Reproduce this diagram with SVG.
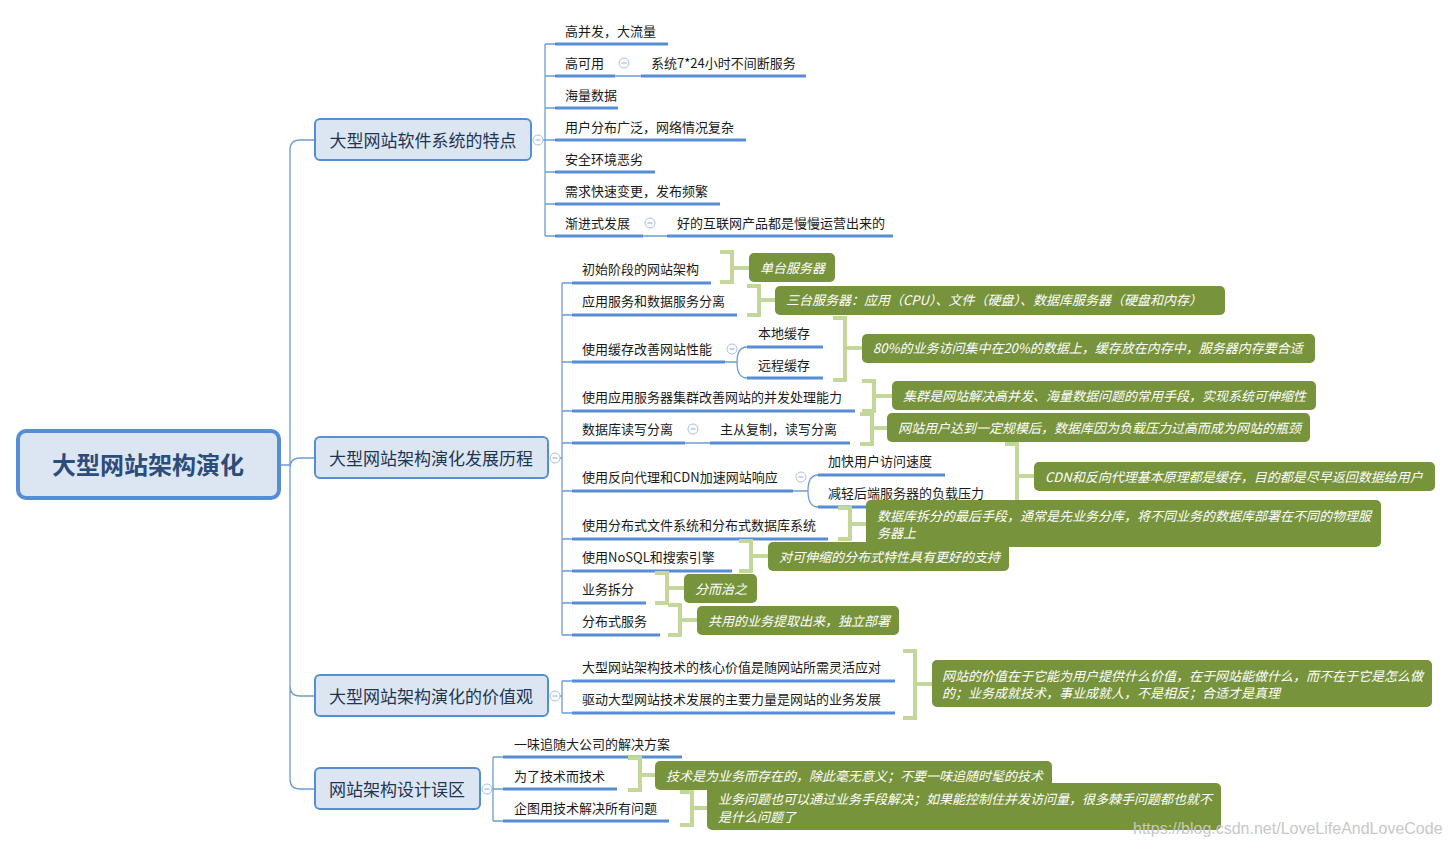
<svg xmlns="http://www.w3.org/2000/svg" width="1452" height="847" viewBox="0 0 1452 847">
<style>
text{font-family:"Noto Sans CJK SC","Liberation Sans",sans-serif;}
.t{font-size:13px;fill:#1a1a1a;dominant-baseline:central;}
.bt{font-size:17px;fill:#1f3556;dominant-baseline:central;text-anchor:middle;}
.rt{font-size:24px;font-weight:bold;fill:#2c4c7c;dominant-baseline:central;text-anchor:middle;}
.ct{font-size:13px;fill:#ffffff;font-style:italic;dominant-baseline:central;}
.bx{fill:#dce6f2;stroke:#558ed5;stroke-width:2;}
.ul{stroke:#558ed5;stroke-width:3;fill:none;}
.ln{stroke:#6f9bd6;stroke-width:1.3;fill:none;}
.br{stroke:#c4d79b;stroke-width:4;fill:none;}
.co{fill:#77933c;}
.cc{fill:#fff;stroke:#a8bfe0;stroke-width:1;}
.cm{stroke:#8aa8d8;stroke-width:1;}
</style>
<defs>
<g id="col"><circle class="cc" r="5"/><line class="cm" x1="-2.5" y1="0" x2="2.5" y2="0"/></g>
</defs>
<rect width="1452" height="847" fill="#fff"/>
<g id="connectors">
<path class="ln" d="M280 465H290M315 140H300Q290 140 290 150V779Q290 789 300 789H315M290 468Q290 458 300 458H315M290 686Q290 696 300 696H315"/>
<path class="ln" d="M543 140H545M545 44V236M545 44H555M545 76H555M545 108H555M545 140H555M545 172H555M545 204H555M545 236H555M615 76H641M643 236H667"/>
<path class="ln" d="M560 458H562M562 283V635M562 283H572M562 315H572M562 362H572M562 411H572M562 443H572M562 491H572M562 539H572M562 571H572M562 603H572M562 635H572M725 362H737Q737 347 747 347M737 362Q737 378 747 378M685 443H710M793 491H808Q808 475 818 475M808 491Q808 507 818 507"/>
<path class="ln" d="M560 696H562M562 681V713M562 681H572M562 713H572"/>
<path class="ln" d="M492 789H493M493 757V821M493 757H503M493 789H503M493 821H503"/>
</g>
<g id="root"><rect x="18" y="431" width="261" height="67" rx="8" fill="#dce6f2" stroke="#558ed5" stroke-width="4"/><text class="rt" x="148" y="463">大型网站架构演化</text></g>
<g id="b1"><rect class="bx" x="315" y="119" width="216" height="41" rx="5"/><text class="bt" x="423" y="139">大型网站软件系统的特点</text><use href="#col" x="538" y="140"/></g>
<g id="b2"><rect class="bx" x="315" y="437" width="233" height="41" rx="5"/><text class="bt" x="431" y="457">大型网站架构演化发展历程</text><use href="#col" x="555" y="458"/></g>
<g id="b3"><rect class="bx" x="315" y="675" width="233" height="41" rx="5"/><text class="bt" x="431" y="695">大型网站架构演化的价值观</text><use href="#col" x="555" y="696"/></g>
<g id="b4"><rect class="bx" x="315" y="768" width="165" height="41" rx="5"/><text class="bt" x="397" y="788">网站架构设计误区</text><use href="#col" x="487" y="789"/></g>
<g id="b1-children">
<g id="n11"><text class="t" x="565" y="30">高并发，大流量</text><path class="ul" d="M555 44H668"/></g>
<g id="n12"><text class="t" x="565" y="62">高可用</text><path class="ul" d="M555 76H615"/><use href="#col" x="624" y="63"/></g>
<g id="n121"><text class="t" x="651" y="62">系统7*24小时不间断服务</text><path class="ul" d="M641 76H806"/></g>
<g id="n13"><text class="t" x="565" y="94">海量数据</text><path class="ul" d="M555 108H618"/></g>
<g id="n14"><text class="t" x="565" y="126">用户分布广泛，网络情况复杂</text><path class="ul" d="M555 140H746"/></g>
<g id="n15"><text class="t" x="565" y="158">安全环境恶劣</text><path class="ul" d="M555 172H655"/></g>
<g id="n16"><text class="t" x="565" y="190">需求快速变更，发布频繁</text><path class="ul" d="M555 204H720"/></g>
<g id="n17"><text class="t" x="565" y="222">渐进式发展</text><path class="ul" d="M555 236H643"/><use href="#col" x="650" y="223"/></g>
<g id="n171"><text class="t" x="677" y="222">好的互联网产品都是慢慢运营出来的</text><path class="ul" d="M667 236H893"/></g>
</g>
<g id="b2-children">
<g id="n21"><text class="t" x="582" y="268">初始阶段的网站架构</text><path class="ul" d="M572 283H711"/></g>
<g id="n22"><text class="t" x="582" y="300">应用服务和数据服务分离</text><path class="ul" d="M572 315H737"/></g>
<g id="n23"><text class="t" x="582" y="348">使用缓存改善网站性能</text><path class="ul" d="M572 362H725"/><use href="#col" x="732" y="349"/></g>
<g id="n231"><text class="t" x="758" y="332">本地缓存</text><path class="ul" d="M747 347H823"/></g>
<g id="n232"><text class="t" x="758" y="364">远程缓存</text><path class="ul" d="M747 378H823"/></g>
<g id="n24"><text class="t" x="582" y="396">使用应用服务器集群改善网站的并发处理能力</text><path class="ul" d="M572 411H855"/></g>
<g id="n25"><text class="t" x="582" y="428">数据库读写分离</text><path class="ul" d="M572 443H685"/><use href="#col" x="693" y="429"/></g>
<g id="n251"><text class="t" x="720" y="428">主从复制，读写分离</text><path class="ul" d="M710 443H850"/></g>
<g id="n26"><text class="t" x="582" y="476">使用反向代理和CDN加速网站响应</text><path class="ul" d="M572 491H793"/><use href="#col" x="801" y="477"/></g>
<g id="n261"><text class="t" x="828" y="460">加快用户访问速度</text><path class="ul" d="M818 475H945"/></g>
<g id="n262"><text class="t" x="828" y="492">减轻后端服务器的负载压力</text><path class="ul" d="M818 507H996"/></g>
<g id="n27"><text class="t" x="582" y="524">使用分布式文件系统和分布式数据库系统</text><path class="ul" d="M572 539H828"/></g>
<g id="n28"><text class="t" x="582" y="556">使用NoSQL和搜索引擎</text><path class="ul" d="M572 571H732"/></g>
<g id="n29"><text class="t" x="582" y="588">业务拆分</text><path class="ul" d="M572 603H646"/></g>
<g id="n2a"><text class="t" x="582" y="620">分布式服务</text><path class="ul" d="M572 635H660"/></g>
</g>
<g id="b3-children">
<g id="n31"><text class="t" x="582" y="666">大型网站架构技术的核心价值是随网站所需灵活应对</text><path class="ul" d="M572 681H895"/></g>
<g id="n32"><text class="t" x="582" y="698">驱动大型网站技术发展的主要力量是网站的业务发展</text><path class="ul" d="M572 713H895"/></g>
</g>
<g id="b4-children">
<g id="n41"><text class="t" x="514" y="743">一味追随大公司的解决方案</text><path class="ul" d="M503 757H682"/></g>
<g id="n42"><text class="t" x="514" y="775">为了技术而技术</text><path class="ul" d="M503 789H617"/></g>
<g id="n43"><text class="t" x="514" y="807">企图用技术解决所有问题</text><path class="ul" d="M503 821H669"/></g>
</g>
<g id="summaries">
<g id="s1"><path class="br" d="M720 252H732V282H720M732 268H749"/><rect class="co" x="749" y="253" width="86" height="29" rx="5"/><text class="ct" x="760" y="267">单台服务器</text></g>
<g id="s2"><path class="br" d="M747 286H759V315H747M759 300H776"/><rect class="co" x="775" y="286" width="450" height="29" rx="5"/><text class="ct" x="786" y="299">三台服务器：应用（CPU）、文件（硬盘）、数据库服务器（硬盘和内存）</text></g>
<g id="s3"><path class="br" d="M833 318H845V380H833M845 348H862"/><rect class="co" x="862" y="334" width="453" height="29" rx="5"/><text class="ct" x="873" y="347">80%的业务访问集中在20%的数据上，缓存放在内存中，服务器内存要合适</text></g>
<g id="s4"><path class="br" d="M862 381H874V411H862M874 396H892"/><rect class="co" x="892" y="381" width="424" height="29" rx="5"/><text class="ct" x="903" y="395">集群是网站解决高并发、海量数据问题的常用手段，实现系统可伸缩性</text></g>
<g id="s5"><path class="br" d="M860 414H872V444H860M872 428H887"/><rect class="co" x="887" y="413" width="423" height="29" rx="5"/><text class="ct" x="898" y="427">网站用户达到一定规模后，数据库因为负载压力过高而成为网站的瓶颈</text></g>
<g id="s6"><path class="br" d="M1005 444H1017V508H1005M1017 476H1034"/><rect class="co" x="1034" y="462" width="401" height="29" rx="5"/><text class="ct" x="1045" y="476">CDN和反向代理基本原理都是缓存，目的都是尽早返回数据给用户</text></g>
<g id="s7"><path class="br" d="M838 508H850V539H838M850 524H866"/><rect class="co" x="866" y="500" width="515" height="47" rx="5"/><text class="ct" x="877" y="515">数据库拆分的最后手段，通常是先业务分库，将不同业务的数据库部署在不同的物理服</text><text class="ct" x="877" y="532">务器上</text></g>
<g id="s8"><path class="br" d="M739 541H751V571H739M751 556H768"/><rect class="co" x="768" y="542" width="241" height="29" rx="5"/><text class="ct" x="779" y="556">对可伸缩的分布式特性具有更好的支持</text></g>
<g id="s9"><path class="br" d="M655 573H667V603H655M667 588H684"/><rect class="co" x="684" y="574" width="73" height="29" rx="5"/><text class="ct" x="695" y="588">分而治之</text></g>
<g id="s10"><path class="br" d="M668 605H680V635H668M680 620H697"/><rect class="co" x="697" y="606" width="202" height="29" rx="5"/><text class="ct" x="708" y="620">共用的业务提取出来，独立部署</text></g>
<g id="s11"><path class="br" d="M903 651H915V718H903M915 684H932"/><rect class="co" x="932" y="660" width="500" height="47" rx="5"/><text class="ct" x="942" y="675">网站的价值在于它能为用户提供什么价值，在于网站能做什么，而不在于它是怎么做</text><text class="ct" x="942" y="692">的；业务成就技术，事业成就人，不是相反；合适才是真理</text></g>
<g id="s12"><path class="br" d="M628 758H640V790H628M640 775H655"/><rect class="co" x="655" y="761" width="397" height="29" rx="5"/><text class="ct" x="666" y="775">技术是为业务而存在的，除此毫无意义；不要一味追随时髦的技术</text></g>
<g id="s13"><path class="br" d="M680 792H692V825H680M692 808H707"/><rect class="co" x="707" y="783" width="514" height="47" rx="5"/><text class="ct" x="718" y="798">业务问题也可以通过业务手段解决；如果能控制住并发访问量，很多棘手问题都也就不</text><text class="ct" x="718" y="816">是什么问题了</text></g>
</g>
<text x="1133" y="834" font-size="16" fill="#c8c8c8" style="font-family:'Liberation Sans',sans-serif">https://blog.csdn.net/LoveLifeAndLoveCode</text>
</svg>
